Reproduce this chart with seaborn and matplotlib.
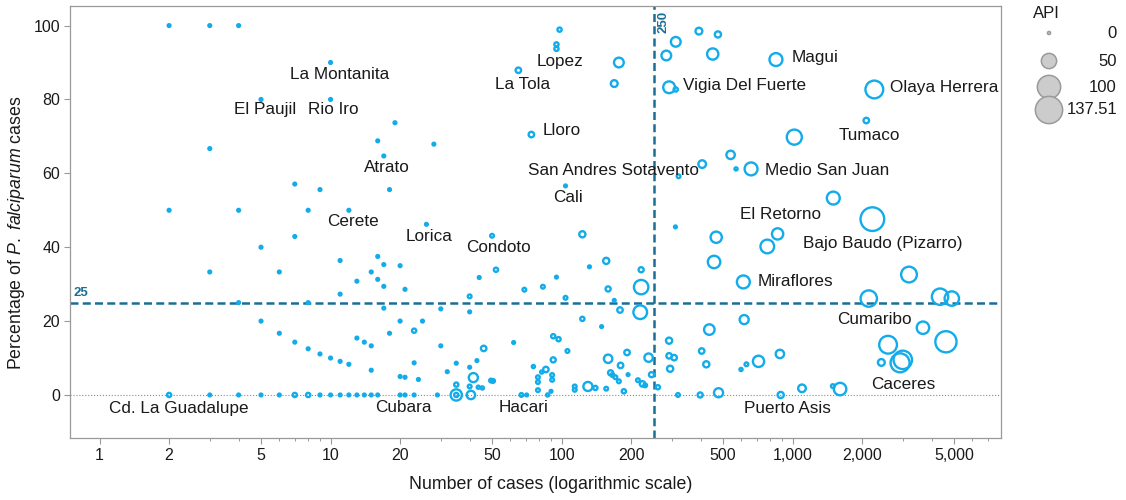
import matplotlib
matplotlib.use("Agg")
import matplotlib.pyplot as plt
import seaborn as sns
import pandas as pd
from matplotlib.ticker import FixedLocator, FixedFormatter, NullFormatter

# ---------------- data ----------------
# number of cases, % P. falciparum, API (annual parasite index)
cases = [
    2, 3, 4, 10, 5, 10, 3, 7, 9, 19, 16, 28, 17, 18,
    2, 4, 8, 12, 5, 7, 26, 3, 6, 11, 13, 11,
    4, 8, 5, 6, 7, 8, 9, 10, 11, 12, 13,
    16, 17, 20, 15, 16, 17, 21, 17, 30, 40, 20, 25, 18, 23,
    14, 15, 30, 15, 20, 21, 23, 24, 32, 35, 40, 43, 44,
    2, 3, 4, 5, 6, 7, 8, 9, 10, 11, 12, 13, 14, 15, 16, 20, 21, 23, 29,
    50, 123, 52, 156, 132, 221, 69, 83, 95, 40, 104, 159, 221,
    169, 179, 219, 123, 149, 46, 62, 92, 97, 106, 92, 192, 159, 180, 238, 245,
    35, 41.5, 40, 43.6, 45.4, 49.5, 50.5, 35, 35, 40.5,
    75.5, 79, 79, 79, 82, 85.5, 91, 91, 90, 87, 67, 70.6,
    114, 114, 130, 140, 156, 163, 166, 171, 177, 186, 194, 214, 224, 230, 261,
    98, 95, 95, 177, 169, 65, 74, 104,
    393, 475, 312, 284, 451, 847, 292, 312, 2258, 2084, 1017, 539, 406, 569, 661,
    321, 1500, 2214, 311, 467, 861, 777, 457, 3190, 612, 2136, 4347, 4887,
    617, 436, 3666, 4610, 2589, 292, 404, 292, 307, 881, 712, 423, 295, 631, 598,
    2421, 2918, 2998, 319, 398, 478, 888, 1098, 1493, 1605,
]
pct_falciparum = [
    100, 100, 100, 90, 80, 80, 66.7, 57.1, 55.6, 73.7, 68.8, 67.9, 64.7, 55.6,
    50, 50, 50, 50, 40, 42.9, 46.2, 33.3, 33.3, 36.4, 30.8, 27.3,
    25, 25, 20, 16.7, 14.3, 12.5, 11.1, 10, 9.1, 8.3, 15.4,
    37.5, 35.3, 35, 33.3, 31.3, 29.4, 28.6, 23.5, 23.3, 22.5, 20, 20, 16.7, 17.4,
    14.3, 13.3, 13.3, 6.7, 5, 4.8, 8.7, 4.2, 6.3, 8.6, 7.5, 9.3, 31.8,
    0, 0, 0, 0, 0, 0, 0, 0, 0, 0, 0, 0, 0, 0, 0, 0, 0, 0, 0,
    43.1, 43.5, 33.9, 36.3, 34.7, 33.9, 28.5, 29.3, 31.9, 26.7, 26.3, 28.7, 29.2,
    25.6, 23, 22.4, 20.6, 18.5, 12.6, 14.2, 15.9, 15.1, 11.9, 9.5, 11.5, 9.8, 8, 10.1, 5.5,
    2.8, 4.7, 2.3, 2.1, 1.9, 3.9, 3.8, 0, 0, 0,
    7.7, 4.8, 3.5, 1.3, 6.2, 6.9, 5.4, 4.1, 1, 0, 0, 0,
    2.3, 1.4, 2.3, 1.9, 1.7, 6, 5.4, 4.8, 3.7, 1, 5.5, 4, 3, 2.6, 2.1,
    98.9, 94.9, 93.7, 90, 84.3, 87.9, 70.5, 56.6,
    98.5, 97.6, 95.6, 91.9, 92.3, 90.8, 83.3, 82.7, 82.7, 74.3, 69.8, 65, 62.5, 61.2, 61.2,
    59.2, 53.3, 47.6, 45.5, 42.7, 43.6, 40.2, 36, 32.6, 30.6, 26.1, 26.6, 26.1,
    20.4, 17.7, 18.2, 14.4, 13.6, 14.7, 11.9, 10.6, 10.1, 11.1, 9.1, 8.3, 7.1, 8.3, 6.9,
    8.8, 8.7, 9.5, 0, 0, 0.6, 0, 1.8, 2.4, 1.6,
]
api = [
    .5, .5, .5, .5, .5, .5, .5, .5, .5, .5, .5, .5, .5, .5,
    .5, .5, .5, .5, .5, .5, .5, .5, .5, .5, .5, .5,
    .5, .5, .5, .5, .5, .5, .5, .5, .5, .5, .5,
    .5, .5, .5, .5, .5, .5, .5, .5, .5, .5, .5, .5, .5, 3,
    .5, .5, .5, .5, .5, .5, .5, .5, .5, .5, .5, .5, .5,
    3, .5, .5, .5, .5, 3, 3, .5, .5, .5, .5, .5, .5, .5, .5, .5, .5, .5, .5,
    2, 8, 3, 8, .5, 5, 2, 2, .5, 2, 2, 5, 50,
    .5, 6, 45, 3, .5, 6, .5, 3, 3, 2, 5, 6, 16, 6, 16, 5,
    3, 19, 2, 1, 1, 2, 2, 30, 3, 16,
    1, 2, 2, 2, 1, 6, 2, 2, .5, 1, 2, .5,
    2, 2, 19, 3, 2, 5, 2, 2, 2, 3, .5, 2, 6, 2, 3,
    3, 3, 3, 22, 10, 6, 6, .5,
    10, 8, 22, 22, 30, 40, 33, 3, 77, 6, 55, 16, 13, 1, 40,
    2, 40, 137.51, .5, 30, 30, 45, 37, 60, 40, 65, 65, 50,
    19, 26, 37, 110, 77, 8, 6, 6, 6, 16, 30, 8, 8, 2, 1,
    10, 88, 83, 2, 5, 19, 8, 13, 2, 37,
]

label_names = ["La Montanita", "El Paujil", "Rio Iro", "Atrato", "Cerete", "Lorica",
               "Condoto", "Cali", "La Tola", "Lopez", "Lloro", "San Andres Sotavento",
               "Magui", "Vigia Del Fuerte", "Olaya Herrera", "Tumaco", "Medio San Juan",
               "El Retorno", "Bajo Baudo (Pizarro)", "Miraflores", "Cumaribo", "Caceres",
               "Puerto Asis", "Hacari", "Cubara", "Cd. La Guadalupe"]
label_cases = [10, 5, 10, 17, 12, 26, 50, 104, 65, 95, 74, 321, 847, 292, 2258, 2084,
               661, 1500, 2214, 612, 2136, 2918, 888, 67, 20, 2]
label_pct = [90, 80, 80, 64.7, 50, 46.2, 43.1, 56.6, 87.9, 93.7, 70.5, 59.2, 90.8, 83.3,
             82.7, 74.3, 61.2, 53.3, 47.6, 30.6, 26.1, 8.7, 0, 0, 0, 0]

legend_values = [0, 50, 100, 137.51]
legend_labels = ["0", "50", "100", "137.51"]

x_major = [1, 2, 5, 10, 20, 50, 100, 200, 500, 1000, 2000, 5000]
x_major_labels = ["1", "2", "5", "10", "20", "50", "100", "200", "500", "1,000", "2,000", "5,000"]
x_minor = [m * d for d in (1, 10, 100, 1000) for m in (3, 4, 6, 7, 8, 9) if m * d < 8000]
y_ticks = [0, 20, 40, 60, 80, 100]
pct_threshold = 25
case_threshold = 250

# ---------------- layout / style ----------------
# label offsets (pixels: dx right, dy down) and alignment
label_layout = [
    (9, 12, "center"), (4, 10, "center"), (3, 10, "center"), (3, 12, "center"),
    (4, 11, "center"), (3, 12, "center"), (6, 12, "center"), (2, 12, "center"),
    (4, 14, "center"), (4, 13, "center"), (11, -4, "left"), (-65, -6, "center"),
    (16, -2.5, "left"), (14, -1.5, "left"), (16, -2, "left"), (3, 14.5, "center"),
    (14, 2, "left"), (-53, 16, "center"), (10, 24, "center"), (14, 0, "left"),
    (6, 20.5, "center"), (3, 22, "center"), (7, 14, "center"), (2, 13, "center"),
    (3, 13, "center"), (10, 14, "center"),
]

BLUE = "#12acea"
DARK = "#1a6e96"
GREY = "#999999"
TXT = "#1a1a1a"

sns.set_theme(style="white")
plt.rcParams["font.family"] = ["Liberation Sans", "DejaVu Sans"]
plt.rcParams["mathtext.fontset"] = "custom"
plt.rcParams["mathtext.rm"] = "Liberation Sans"
plt.rcParams["mathtext.it"] = "Liberation Sans:italic"

W, H = 1126, 500
fig = plt.figure(figsize=(W / 100, H / 100), dpi=100)
ax = fig.add_axes([70 / W, (H - 438) / H, 931 / W, 432 / H])

df = pd.DataFrame({"cases": cases, "pct": pct_falciparum, "api": api})
size_range = (3, 290)
size_norm = (0, 137.51)
sns.scatterplot(data=df, x="cases", y="pct", size="api", sizes=size_range,
                size_norm=size_norm, legend=False, ax=ax, color=BLUE,
                facecolor="none", edgecolor=BLUE, linewidth=1.7, zorder=3)

ax.set_xscale("log")
ax.set_xlim(0.745, 7980)
ax.set_ylim(-11.65, 105.3)

ax.axhline(0, color="#8a8a8a", ls=":", lw=0.8, zorder=1)
ax.axhline(pct_threshold, color=DARK, lw=1.8, ls=(0, (3.2, 1.7)), zorder=2)
ax.axvline(case_threshold, color=DARK, lw=1.8, ls=(0, (3.2, 1.7)), zorder=2)
ax.annotate(str(pct_threshold), xy=(0, pct_threshold), xycoords=ax.get_yaxis_transform(),
            xytext=(3, 4), textcoords="offset pixels", ha="left", va="bottom",
            fontsize=9.5, fontweight="bold", color=DARK)
ax.annotate(str(case_threshold), xy=(case_threshold, 1), xycoords=ax.get_xaxis_transform(),
            xytext=(4, -5), textcoords="offset pixels", ha="left", va="top",
            rotation=90, fontsize=9.5, fontweight="bold", color=DARK)

for name, lx, ly, (dx, dy, ha) in zip(label_names, label_cases, label_pct, label_layout):
    ax.annotate(name, xy=(lx, ly), xytext=(dx, -dy), textcoords="offset pixels",
                ha=ha, va="center", fontsize=12.3, color=TXT, zorder=4)

ax.xaxis.set_major_locator(FixedLocator(x_major))
ax.xaxis.set_major_formatter(FixedFormatter(x_major_labels))
ax.xaxis.set_minor_locator(FixedLocator(x_minor))
ax.xaxis.set_minor_formatter(NullFormatter())
ax.set_yticks(y_ticks)
ax.tick_params(axis="both", which="major", length=4, width=0.8, color=GREY,
               labelsize=11.5, labelcolor=TXT, pad=3, bottom=True, left=True)
ax.tick_params(axis="x", which="minor", length=2.2, width=0.7, color=GREY, bottom=True)
for sp in ax.spines.values():
    sp.set_color(GREY)
    sp.set_linewidth(0.9)

ax.set_xlabel("Number of cases (logarithmic scale)", fontsize=12.8, color=TXT)
ax.set_ylabel(r"Percentage of $P.\ falciparum$ cases", fontsize=12.8, color=TXT)
ax.xaxis.set_label_coords((551 - 70) / 931, -(476 - 438) / 432)
ax.yaxis.set_label_coords((27 - 70) / 931, (438 - 233) / 432)

# ---------------- size legend ----------------
lax = fig.add_axes([1020 / W, (H - 130) / H, 106 / W, 130 / H])
lax.set_xlim(0, 106)
lax.set_ylim(130, 0)
lax.axis("off")
legend_sizes = [5, 121, 282, 386]
legend_y = [33, 61, 87, 110]
lax.scatter([29] * 4, legend_y, s=legend_sizes, facecolor="#cccccc",
            edgecolor="#9a9a9a", linewidth=1.1, clip_on=False)
for lab, yy in zip(legend_labels, legend_y):
    lax.text(97, yy, lab, ha="right", va="center", fontsize=12, color=TXT)
lax.text(26, 13.5, "API", ha="center", va="center", fontsize=12, color=TXT)

fig.savefig("out.png", dpi=100)
